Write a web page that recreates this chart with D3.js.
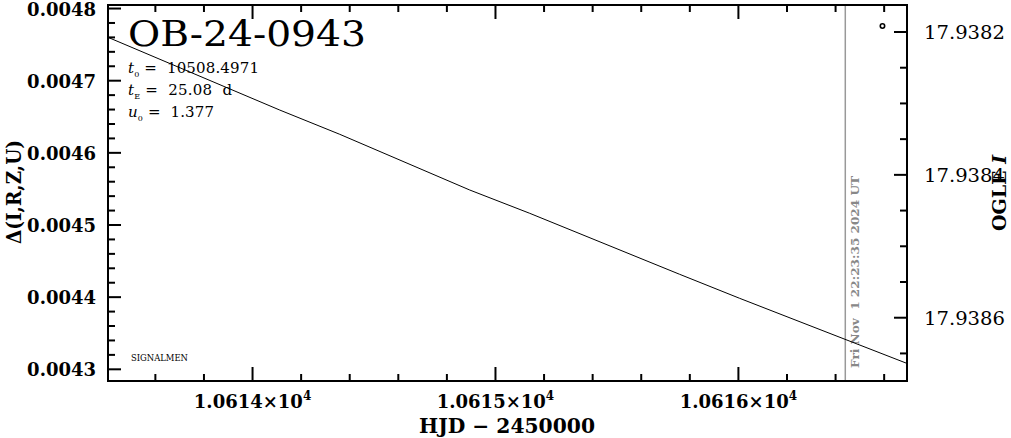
<!DOCTYPE html>
<html><head><meta charset="utf-8">
<script src="https://cdn.jsdelivr.net/npm/d3@7"></script>
<style>body{margin:0;background:#fff}svg{display:block}</style>
</head><body>
<script>
// ---- data ----
const modelHJD   = [10613.405, 10614.112, 10614.359, 10614.894, 10615.141, 10615.758, 10616.005, 10616.693];
const modelDelta = [0.0047601, 0.0046593, 0.0046257, 0.0045485, 0.0045162, 0.0044317, 0.0043984, 0.0043083];
const obsHJD = [10616.593];
const obsMag = [17.9381916];
const xTicks = [10614, 10615, 10616];
const xTickLabels = ["1.0614×10", "1.0615×10", "1.0616×10"];
const xTickExp = ["4", "4", "4"];
const leftTicks = [0.0043, 0.0044, 0.0045, 0.0046, 0.0047, 0.0048];
const leftTickLabels = ["0.0043", "0.0044", "0.0045", "0.0046", "0.0047", "0.0048"];
const rightTicks = [17.9382, 17.9384, 17.9386];
const rightTickLabels = ["17.9382", "17.9384", "17.9386"];
const nowHJD = 10616.44;
const nowLabel = "Fri Nov  1 22:23:35 2024 UT";
const eventName = "OB-24-0943";
const params = [["t", "0", " =  10508.4971"], ["t", "E", " =  25.08  d"], ["u", "0", " =  1.377"]];
const paramWidths = [131, 104, 86];

// ---- layout ----
const W = 1011, H = 438;
const L = 108, R = 907, T = 5, B = 381;
const svg = d3.select("body").append("svg").attr("width", W).attr("height", H);
const x = d3.scaleLinear().domain([10613.405, 10616.694]).range([L, R]);
const yL = d3.scaleLinear().domain([0.0042838, 0.0048049]).range([B, T]);
const yR = d3.scaleLinear().domain([17.9386886, 17.9381622]).range([B, T]);

const serif = "'DejaVu Serif', serif";
const g = svg.append("g");

function range(a, b, s) { const out = []; for (let v = a; v <= b + s * 1e-6; v += s) out.push(+v.toFixed(8)); return out; }
const xMinor = range(10613.4, 10616.8, 0.2).filter(v => x(v) >= L && x(v) <= R);
const yLMinor = range(0.00428, 0.00481, 0.00002).filter(v => yL(v) >= T && yL(v) <= B);
const yRMinor = range(17.93815, 17.93870, 0.00005).filter(v => yR(v) >= T && yR(v) <= B);
const isMajor = (v, arr) => arr.some(m => Math.abs(m - v) < 1e-9);

xMinor.forEach(v => {
  const len = isMajor(v, xTicks) ? 14 : 7;
  g.append("line").attr("x1", x(v)).attr("x2", x(v)).attr("y1", B).attr("y2", B - len).attr("stroke", "#000").attr("stroke-width", 2);
  g.append("line").attr("x1", x(v)).attr("x2", x(v)).attr("y1", T).attr("y2", T + len).attr("stroke", "#000").attr("stroke-width", 2);
});
yLMinor.forEach(v => {
  const len = isMajor(v, leftTicks) ? 13 : 7;
  g.append("line").attr("x1", L).attr("x2", L + len).attr("y1", yL(v)).attr("y2", yL(v)).attr("stroke", "#000").attr("stroke-width", 2);
});
yRMinor.forEach(v => {
  const len = isMajor(v, rightTicks) ? 13 : 7;
  g.append("line").attr("x1", R).attr("x2", R - len).attr("y1", yR(v)).attr("y2", yR(v)).attr("stroke", "#000").attr("stroke-width", 2);
});

xTicks.forEach((v, i) => {
  const t = g.append("text").attr("x", x(v)).attr("y", 408).attr("text-anchor", "middle")
    .attr("font-family", serif).attr("font-weight", "bold").attr("font-size", 18).attr("fill", "#000");
  t.append("tspan").text(xTickLabels[i]);
  t.append("tspan").attr("dy", -8).attr("font-size", 12).text(xTickExp[i]);
});
leftTicks.forEach((v, i) => {
  g.append("text").attr("x", 96).attr("y", yL(v) + 7).attr("text-anchor", "end")
    .attr("font-family", serif).attr("font-weight", "bold").attr("font-size", 18).attr("fill", "#000")
    .text(leftTickLabels[i]);
});
rightTicks.forEach((v, i) => {
  g.append("text").attr("x", 924).attr("y", yR(v) + 7).attr("text-anchor", "start")
    .attr("font-family", serif).attr("font-size", 18).attr("fill", "#000")
    .attr("textLength", 81).attr("lengthAdjust", "spacingAndGlyphs")
    .text(rightTickLabels[i]);
});

g.append("text").attr("x", 507).attr("y", 433).attr("text-anchor", "middle")
  .attr("font-family", serif).attr("font-weight", "bold").attr("font-size", 20).attr("fill", "#000")
  .attr("textLength", 176).attr("lengthAdjust", "spacingAndGlyphs")
  .text("HJD − 2450000");
g.append("text").attr("transform", "translate(21,192) rotate(-90)").attr("text-anchor", "middle")
  .attr("font-family", serif).attr("font-weight", "bold").attr("font-size", 20).attr("fill", "#000")
  .attr("textLength", 104).attr("lengthAdjust", "spacingAndGlyphs")
  .text("Δ(I,R,Z,U)");
const rt = g.append("text").attr("transform", "translate(1006,193) rotate(-90)").attr("text-anchor", "middle")
  .attr("font-family", serif).attr("font-weight", "bold").attr("font-size", 19).attr("fill", "#000");
rt.append("tspan").text("OGLE ");
rt.append("tspan").attr("font-style", "italic").text("I");

g.append("line").attr("x1", x(nowHJD)).attr("x2", x(nowHJD)).attr("y1", T).attr("y2", B)
  .attr("stroke", "#999").attr("stroke-width", 1.5);
g.append("text").attr("transform", `translate(${x(nowHJD) + 14},368) rotate(-90)`).attr("text-anchor", "start")
  .attr("font-family", "'DejaVu Serif', serif").attr("font-weight", "bold").attr("font-size", 11.5)
  .attr("fill", "#888").attr("textLength", 192).attr("lengthAdjust", "spacingAndGlyphs")
  .attr("xml:space", "preserve")
  .text(nowLabel);

const line = d3.line().x((d, i) => x(modelHJD[i])).y(d => yL(d));
g.append("path").datum(modelDelta).attr("d", line).attr("fill", "none").attr("stroke", "#000").attr("stroke-width", 1);

g.selectAll("circle.obs").data(obsMag).enter().append("circle").attr("class", "obs")
  .attr("cx", (d, i) => x(obsHJD[i])).attr("cy", d => yR(d)).attr("r", 2.2)
  .attr("fill", "none").attr("stroke", "#000").attr("stroke-width", 1.6);

g.append("rect").attr("x", L).attr("y", T).attr("width", R - L).attr("height", B - T)
  .attr("fill", "none").attr("stroke", "#000").attr("stroke-width", 2);

g.append("text").attr("x", 128).attr("y", 46).attr("font-family", serif).attr("font-size", 35)
  .attr("fill", "#000").attr("textLength", 238).attr("lengthAdjust", "spacingAndGlyphs").text(eventName);
params.forEach((p, i) => {
  const t = g.append("text").attr("x", 128).attr("y", 73 + i * 22).attr("font-family", serif)
    .attr("font-size", 15).attr("fill", "#000").attr("xml:space", "preserve")
    .attr("textLength", paramWidths[i]).attr("lengthAdjust", "spacing");
  t.append("tspan").attr("font-style", "italic").text(p[0]);
  t.append("tspan").attr("dy", 4).attr("font-size", 8).text(p[1]);
  t.append("tspan").attr("dy", -4).text(p[2]);
});
g.append("text").attr("x", 131).attr("y", 361).attr("font-family", serif).attr("font-size", 8.5)
  .attr("fill", "#000").attr("textLength", 57).attr("lengthAdjust", "spacingAndGlyphs").text("SIGNALMEN");
</script>
</body></html>
